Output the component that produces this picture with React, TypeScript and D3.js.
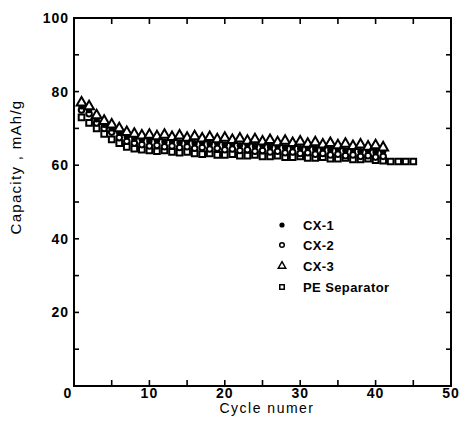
import React, { useEffect, useRef } from "react";
import * as d3 from "d3";

// capacity (mAh/g) per cycle; cycle = index + 1
const cx1 = [76, 75, 72.5, 71, 70, 68.8, 67.8, 67.2, 67, 66.6, 66.8, 66.4, 66.6, 66.2, 66.4, 66, 66.2, 65.8, 66, 65.6, 65.8, 65.4, 65.6, 65.2, 65.4, 65, 65.2, 64.8, 65, 64.6, 64.8, 64.4, 64.6, 64.2, 64.4, 64, 64.2, 63.8, 64, 63.6, 63.8];
const cx2 = [75, 74, 71.5, 70, 69, 67.5, 66.5, 66, 65.6, 65.2, 65.4, 65, 65.2, 64.8, 65, 64.6, 64.8, 64.4, 64.6, 64.2, 64.4, 64, 64.2, 63.8, 64, 63.6, 63.8, 63.4, 63.6, 63.2, 63.4, 63, 63.2, 62.8, 63, 62.6, 62.8, 62.4, 62.6, 62.2, 62.4];
const cx3 = [77, 76, 73.5, 72, 71, 70, 69, 68.5, 68, 68.2, 67.8, 68.2, 67.6, 68, 67.4, 67.8, 67.2, 67.6, 67, 67.4, 66.8, 67.2, 66.6, 67, 66.4, 66.8, 66.2, 66.6, 66, 66.4, 65.8, 66.2, 65.6, 66, 65.4, 65.8, 65.2, 65.6, 65, 65.4, 64.8];
const pe = [73, 71.5, 70, 68.5, 67, 66, 65, 64.5, 64.2, 64, 63.8, 64, 63.6, 63.4, 63.6, 63.2, 63, 63.2, 62.8, 62.8, 63, 62.6, 62.6, 62.8, 62.4, 62.4, 62.6, 62.2, 62.2, 62.4, 62, 62, 62.2, 61.8, 61.8, 62, 61.6, 61.6, 61.8, 61.4, 61.2, 61, 61, 61, 61];

const seriesNames = ["CX-1", "CX-2", "CX-3", "PE Separator"];
const xTickLabels = [0, 10, 20, 30, 40, 50];
const yTickLabels = [20, 40, 60, 80, 100];

const W = 465;
const H = 432;
const left = 74, right = 451, top = 18, bottom = 386;
const font = "'Liberation Sans', Arial, sans-serif";

export default function App() {
  const ref = useRef<SVGSVGElement>(null);

  useEffect(() => {
    const svg = d3.select(ref.current);
    svg.selectAll("*").remove();

    const x = d3.scaleLinear().domain([0, 50]).range([left, right]);
    const y = d3.scaleLinear().domain([0, 100]).range([bottom, top]);

    // frame
    svg.append("rect")
      .attr("x", left).attr("y", top)
      .attr("width", right - left).attr("height", bottom - top)
      .attr("fill", "none").attr("stroke", "#000").attr("stroke-width", 2);

    // inward ticks
    const g = svg.append("g").attr("stroke", "#000").attr("stroke-width", 1.6);
    d3.range(5, 50, 5).forEach((t) => {
      g.append("line").attr("x1", x(t)).attr("x2", x(t)).attr("y1", bottom).attr("y2", bottom - 6);
      g.append("line").attr("x1", x(t)).attr("x2", x(t)).attr("y1", top).attr("y2", top + 6);
    });
    d3.range(10, 100, 10).forEach((t) => {
      g.append("line").attr("x1", left).attr("x2", left + 5).attr("y1", y(t)).attr("y2", y(t));
      g.append("line").attr("x1", right).attr("x2", right - 5).attr("y1", y(t)).attr("y2", y(t));
    });

    // tick labels
    svg.append("g").selectAll("text").data(xTickLabels).join("text")
      .attr("x", (d) => (d === 0 ? x(d) - 6 : x(d)))
      .attr("y", bottom + 12)
      .attr("text-anchor", "middle")
      .attr("font-family", font).attr("font-weight", "bold").attr("font-size", 14)
      .attr("letter-spacing", 1)
      .text((d) => d);
    svg.append("g").selectAll("text").data(yTickLabels).join("text")
      .attr("x", left - 5)
      .attr("y", (d) => y(d) + 5)
      .attr("text-anchor", "end")
      .attr("font-family", font).attr("font-weight", "bold").attr("font-size", 14)
      .attr("letter-spacing", 1)
      .text((d) => d);

    // axis titles
    svg.append("text")
      .attr("x", 267).attr("y", 413)
      .attr("text-anchor", "middle")
      .attr("font-family", font).attr("font-size", 14).attr("letter-spacing", 1.5)
      .text("Cycle numer");
    svg.append("text")
      .attr("transform", `translate(21,167) rotate(-90)`)
      .attr("text-anchor", "middle")
      .attr("font-family", font).attr("font-size", 15).attr("letter-spacing", 1.3)
      .text("Capacity  , mAh/g");

    const tri = d3.symbol().type(d3.symbolTriangle).size(42);
    const sq = d3.symbol().type(d3.symbolSquare).size(32);

    const plot = svg.append("g");
    plot.selectAll(".pe").data(pe).join("path")
      .attr("d", sq)
      .attr("transform", (d, i) => `translate(${x(i + 1)},${y(d)})`)
      .attr("fill", "#fff").attr("stroke", "#000").attr("stroke-width", 2);
    plot.selectAll(".cx2").data(cx2).join("circle")
      .attr("cx", (d, i) => x(i + 1)).attr("cy", (d) => y(d)).attr("r", 2.8)
      .attr("fill", "#fff").attr("stroke", "#000").attr("stroke-width", 2);
    plot.selectAll(".cx1").data(cx1).join("circle")
      .attr("cx", (d, i) => x(i + 1)).attr("cy", (d) => y(d)).attr("r", 3.2)
      .attr("fill", "#000");
    plot.selectAll(".cx3").data(cx3).join("path")
      .attr("d", tri)
      .attr("transform", (d, i) => `translate(${x(i + 1)},${y(d)})`)
      .attr("fill", "#fff").attr("stroke", "#000").attr("stroke-width", 2);

    // legend
    const legY = [225, 245, 266, 287];
    const leg = svg.append("g");
    seriesNames.forEach((name, i) => {
      const cy = legY[i];
      if (i === 0) leg.append("circle").attr("cx", 282).attr("cy", cy).attr("r", 2.6).attr("fill", "#000");
      if (i === 1) leg.append("circle").attr("cx", 282).attr("cy", cy).attr("r", 2.3)
        .attr("fill", "#fff").attr("stroke", "#000").attr("stroke-width", 1.5);
      if (i === 2) leg.append("path").attr("d", d3.symbol().type(d3.symbolTriangle).size(24))
        .attr("transform", `translate(282,${cy})`)
        .attr("fill", "#fff").attr("stroke", "#000").attr("stroke-width", 1.5);
      if (i === 3) leg.append("path").attr("d", d3.symbol().type(d3.symbolSquare).size(20))
        .attr("transform", `translate(282,${cy})`)
        .attr("fill", "#fff").attr("stroke", "#000").attr("stroke-width", 1.5);
      leg.append("text")
        .attr("x", 303).attr("y", cy + 5)
        .attr("font-family", font).attr("font-weight", "bold").attr("font-size", 13)
        .attr("letter-spacing", 0.4)
        .text(name);
    });
  }, []);

  return (
    <svg
      ref={ref}
      width={W}
      height={H}
      style={{ position: "absolute", left: 0, top: 0, background: "#fff" }}
    ></svg>
  );
}
